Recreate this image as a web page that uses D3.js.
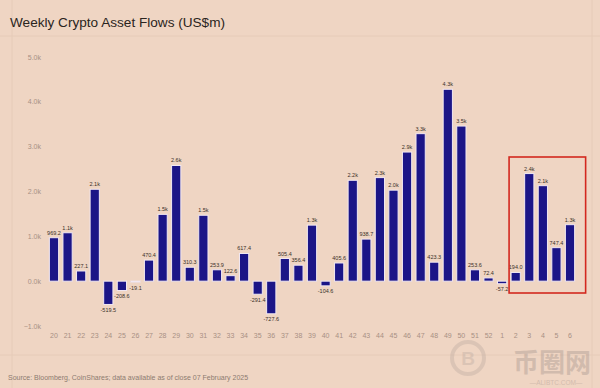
<!DOCTYPE html>
<html>
<head>
<meta charset="utf-8">
<script src="https://cdn.jsdelivr.net/npm/d3@7"></script>
<style>
  body { margin: 0; background: #efd5c3; }
  svg { display: block; font-family: "Liberation Sans", Arial, sans-serif; }
</style>
</head>
<body>
<svg id="chart" width="600" height="388"></svg>
<script>
const weeks = ["20","21","22","23","24","25","26","27","28","29","30","31","32","33","34","35","36","37","38","39","40","41","42","43","44","45","46","47","48","49","50","51","52","1","2","3","4","5","6"];
const flows = [969.2,1080,227.1,2050,-519.5,-208.6,-19.1,470.4,1490,2580,310.3,1470,253.9,122.6,617.4,-291.4,-727.6,505.4,356.4,1250,-104.6,405.6,2250,938.7,2310,2030,2880,3290,423.3,4280,3460,253.6,72.4,-57.2,194.0,2400,2130,747.4,1260];
const flowLabels = ["969.2","1.1k","227.1","2.1k","-519.5","-208.6","-19.1","470.4","1.5k","2.6k","310.3","1.5k","253.9","122.6","617.4","-291.4","-727.6","505.4","356.4","1.3k","-104.6","405.6","2.2k","938.7","2.3k","2.0k","2.9k","3.3k","423.3","4.3k","3.5k","253.6","72.4","-57.2","194.0","2.4k","2.1k","747.4","1.3k"];
const yTicks = [-1000, 0, 1000, 2000, 3000, 4000, 5000];
const highlighted = ["2","3","4","5","6"];

const svg = d3.select("#chart");
const width = +svg.attr("width");
const height = +svg.attr("height");

svg.append("rect").attr("width", width).attr("height", height).attr("fill", "#efd5c3");

// faint photographed background lines
const bgLines = svg.append("g").attr("stroke", "#e6cbb8").attr("stroke-width", 1);
[12, 600 - 8].forEach(x => bgLines.append("line").attr("x1", x).attr("x2", x).attr("y1", 0).attr("y2", height));
[36, 355].forEach(y => bgLines.append("line").attr("x1", 0).attr("x2", width).attr("y1", y).attr("y2", y));

const x = d3.scaleBand()
  .domain(weeks)
  .range([47.2, 576.8])
  .paddingInner(0.32)
  .paddingOuter(0.16);

const y = d3.scaleLinear()
  .domain([-1000, 5000])
  .range([326, 57]);

svg.append("text")
  .attr("x", 10)
  .attr("y", 27)
  .attr("font-size", 13.6)
  .attr("fill", "#2a2420")
  .text("Weekly Crypto Asset Flows (US$m)");

// y axis labels
svg.append("g")
  .selectAll("text")
  .data(yTicks)
  .join("text")
  .attr("x", 41)
  .attr("y", d => y(d) + 2.5)
  .attr("text-anchor", "end")
  .attr("font-size", 7)
  .attr("fill", "#a89084")
  .text(d => d3.format(".1f")(d / 1000) + "k");

// x axis labels
svg.append("g")
  .selectAll("text")
  .data(weeks)
  .join("text")
  .attr("x", d => x(d) + x.bandwidth() / 2)
  .attr("y", 338)
  .attr("text-anchor", "middle")
  .attr("font-size", 7)
  .attr("fill", "#a89084")
  .text(d => d);

const bars = svg.append("g");

bars.selectAll("rect")
  .data(flows)
  .join("rect")
  .attr("x", (d, i) => x(weeks[i]))
  .attr("y", d => y(Math.max(0, d)))
  .attr("width", x.bandwidth())
  .attr("height", d => Math.abs(y(d) - y(0)))
  .attr("fill", "#1b1587")
  .attr("stroke", "#f1e8f2")
  .attr("stroke-width", 1);

bars.selectAll("text")
  .data(flows)
  .join("text")
  .attr("x", (d, i) => x(weeks[i]) + x.bandwidth() / 2)
  .attr("y", d => d >= 0 ? y(d) - 3 : y(d) + 7.5)
  .attr("text-anchor", "middle")
  .attr("font-size", 5.5)
  .attr("fill", "#3a3028")
  .text((d, i) => flowLabels[i]);

// highlight box round the latest weeks
const first = highlighted[0];
const last = highlighted[highlighted.length - 1];
const boxLeft = x(first) - 2;
const boxRight = x(last) + x.bandwidth() + 11;
svg.append("rect")
  .attr("x", boxLeft)
  .attr("y", 157)
  .attr("width", boxRight - boxLeft)
  .attr("height", 136)
  .attr("fill", "none")
  .attr("stroke", "#d3281f")
  .attr("stroke-width", 1.6);

svg.append("text")
  .attr("x", 8)
  .attr("y", 380)
  .attr("font-size", 7)
  .attr("fill", "#8d7b70")
  .text("Source: Bloomberg, CoinShares; data available as of close 07 February 2025");

// watermark
const wm = svg.append("g").attr("opacity", 0.35);
wm.append("circle").attr("cx", 468).attr("cy", 358).attr("r", 16)
  .attr("fill", "none").attr("stroke", "#b8a79e").attr("stroke-width", 4);
wm.append("text").attr("x", 468).attr("y", 365).attr("text-anchor", "middle")
  .attr("font-size", 19).attr("font-weight", "bold").attr("fill", "#b8a79e").text("B");
wm.append("text").attr("x", 552).attr("y", 372).attr("text-anchor", "middle")
  .attr("font-family", "Noto Sans CJK SC").attr("font-size", 26).attr("font-weight", "bold")
  .attr("fill", "#9c8c86").text("币圈网");
wm.append("text").attr("x", 556).attr("y", 385).attr("text-anchor", "middle")
  .attr("font-size", 6.5).attr("fill", "#9c8c86").text("—ALIBTC.COM—");
</script>
</body>
</html>
